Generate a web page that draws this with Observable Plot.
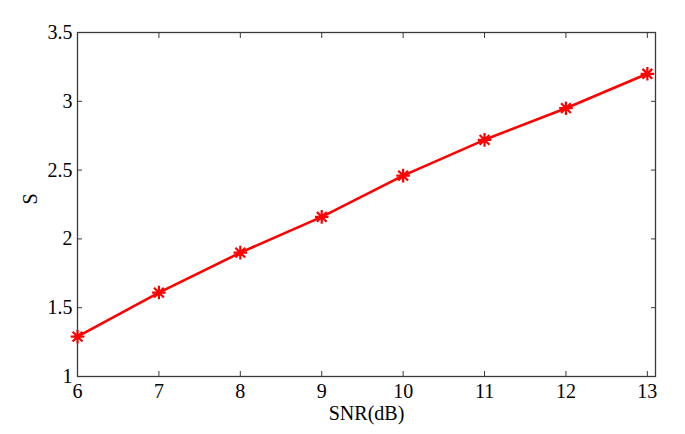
<!DOCTYPE html>
<html>
<head>
<meta charset="utf-8">
<script src="https://cdn.jsdelivr.net/npm/d3@7"></script>
<script src="https://cdn.jsdelivr.net/npm/@observablehq/plot@0.6"></script>
<style>
  html, body { margin: 0; padding: 0; background: #fff; }
</style>
</head>
<body>
<div id="chart"></div>
<script>
const snr = [6, 7, 8, 9, 10, 11, 12, 13];
const sValues = [1.29, 1.61, 1.90, 2.16, 2.46, 2.72, 2.95, 3.20];
const xTicks = [6, 7, 8, 9, 10, 11, 12, 13];
const yTicks = [1, 1.5, 2, 2.5, 3, 3.5];
const xLabel = "SNR(dB)";
const yLabel = "S";

const data = snr.map((x, i) => ({x, y: sValues[i]}));

// MATLAB-style 8-spoke asterisk marker
const asterisk = {
  draw(ctx, size) {
    const r = Math.sqrt(size / Math.PI);
    const d = r * 0.72;
    ctx.moveTo(-r, 0); ctx.lineTo(r, 0);
    ctx.moveTo(0, -r); ctx.lineTo(0, r);
    ctx.moveTo(-d, -d); ctx.lineTo(d, d);
    ctx.moveTo(-d, d); ctx.lineTo(d, -d);
  }
};

const font = "Liberation Serif, Times New Roman, serif";
const axisColor = "#3a3a3a";
const fmt = d => String(d);

const chart = Plot.plot({
  width: 685,
  height: 434,
  marginLeft: 77,
  marginRight: 30,
  marginTop: 32,
  marginBottom: 58,
  style: {fontFamily: font, fontSize: "20px", color: "#000", background: "#fff"},
  x: {domain: [6, 13.1], label: null},
  y: {domain: [1, 3.5], label: null},
  marks: [
    Plot.frame({stroke: axisColor, strokeWidth: 1.3}),
    Plot.axisX(xTicks, {anchor: "bottom", tickSize: -5, tickPadding: 12, tickFormat: fmt, stroke: axisColor, fill: "#000", fontSize: 20}),
    Plot.axisX(xTicks, {anchor: "top", tickSize: -5, tickFormat: () => "", stroke: axisColor}),
    Plot.axisY(yTicks, {anchor: "left", tickSize: -5, tickPadding: 10, tickFormat: fmt, stroke: axisColor, fill: "#000", fontSize: 20}),
    Plot.axisY(yTicks, {anchor: "right", tickSize: -5, tickFormat: () => "", stroke: axisColor}),
    Plot.line(data, {x: "x", y: "y", stroke: "#ff0000", strokeWidth: 2.6}),
    Plot.dot(data, {x: "x", y: "y", symbol: asterisk, r: 6.8, stroke: "#ff0000", strokeWidth: 2.2, fill: "none"}),
    Plot.text([xLabel], {frameAnchor: "bottom", text: d => d, dy: 37, lineAnchor: "middle", fontSize: 20, fill: "#000"}),
    Plot.text([yLabel], {frameAnchor: "left", text: d => d, dx: -47, rotate: -90, lineAnchor: "middle", fontSize: 20, fill: "#000"})
  ]
});

document.getElementById("chart").appendChild(chart);
</script>
</body>
</html>
